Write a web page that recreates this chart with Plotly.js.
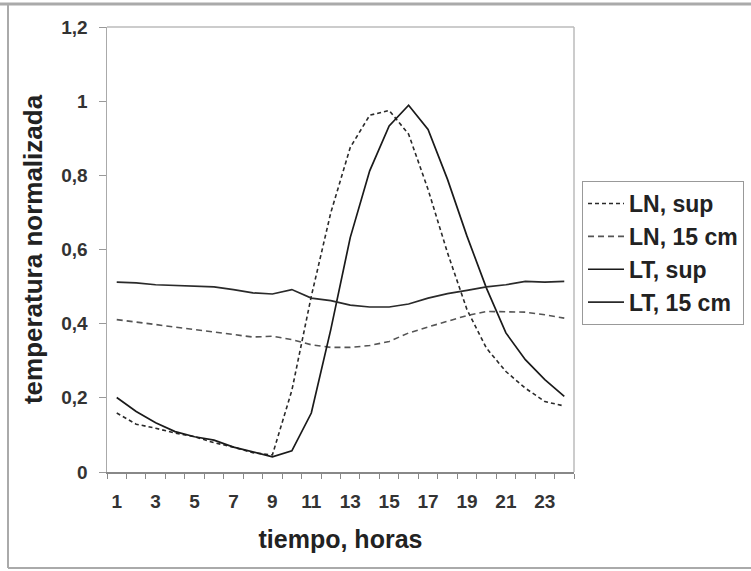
<!DOCTYPE html>
<html>
<head>
<meta charset="utf-8">
<script src="https://cdn.plot.ly/plotly-3.0.1.min.js"></script>
<style>html,body{margin:0;padding:0;background:#fff;}#chart{width:751px;height:571px;}</style>
</head>
<body>
<div id="chart"></div>
<script>
const hours = [1,2,3,4,5,6,7,8,9,10,11,12,13,14,15,16,17,18,19,20,21,22,23,24];
const lnSup  = [0.159,0.129,0.118,0.105,0.095,0.079,0.067,0.052,0.046,0.22,0.474,0.699,0.875,0.962,0.975,0.911,0.762,0.591,0.438,0.334,0.271,0.226,0.19,0.178];
const ln15   = [0.411,0.404,0.399,0.39,0.384,0.377,0.37,0.364,0.366,0.357,0.343,0.336,0.336,0.341,0.352,0.375,0.391,0.406,0.422,0.433,0.433,0.431,0.424,0.415];
const ltSup  = [0.201,0.163,0.133,0.109,0.095,0.086,0.067,0.055,0.041,0.057,0.159,0.384,0.632,0.812,0.933,0.989,0.924,0.789,0.636,0.496,0.375,0.303,0.249,0.204];
const lt15   = [0.512,0.51,0.505,0.503,0.502,0.499,0.492,0.483,0.48,0.492,0.469,0.462,0.45,0.445,0.445,0.453,0.469,0.481,0.49,0.499,0.505,0.514,0.512,0.514];
const seriesNames = ["LN, sup","LN, 15 cm","LT, sup","LT, 15 cm"];
const xTickVals = [1,3,5,7,9,11,13,15,17,19,21,23];
const yTickVals = [0,0.2,0.4,0.6,0.8,1,1.2];

const fontFam = "Liberation Sans, Arial, sans-serif";
const traces = [
  {x:hours, y:lnSup, name:seriesNames[0], mode:'lines', line:{color:'#2a2a2a', width:1.6, dash:'4px,3px'}},
  {x:hours, y:ln15,  name:seriesNames[1], mode:'lines', line:{color:'#555', width:1.6, dash:'6px,4px'}},
  {x:hours, y:ltSup, name:seriesNames[2], mode:'lines', line:{color:'#1a1a1a', width:1.7}},
  {x:hours, y:lt15,  name:seriesNames[3], mode:'lines', line:{color:'#2a2a2a', width:1.7}}
];

const L=107, R=574, T=27, B=472;
const px = v => (v - L)/(R - L);
const py = v => (B - v)/(B - T);

const layout = {
  width:751, height:571,
  margin:{l:L, r:751-R, t:T, b:571-B, pad:0, autoexpand:false},
  paper_bgcolor:'#fff', plot_bgcolor:'#fff',
  separators:',.',
  font:{family:fontFam, color:'#222'},
  showlegend:true,
  legend:{x:px(582), y:py(181), xanchor:'left', yanchor:'top',
    bordercolor:'#999', borderwidth:1, bgcolor:'#fff',
    font:{family:fontFam, size:23, weight:'bold', color:'#222'},
    tracegroupgap:0, itemwidth:36},
  xaxis:{range:[0.5,24.5], tickvals:xTickVals, ticks:'', showgrid:false, zeroline:false,
    showline:true, linecolor:'#888', linewidth:1.5,
    ticklabelstandoff:12,
    tickfont:{family:fontFam, size:19, weight:'bold', color:'#333'},
    minor:{ticks:'outside', tick0:0.5, dtick:1, ticklen:5, tickcolor:'#888', tickwidth:1, showgrid:false},
    title:{text:'tiempo, horas', font:{family:fontFam, size:25, weight:'bold', color:'#222'}, standoff:19}},
  yaxis:{range:[0,1.2], tickvals:yTickVals, ticks:'outside', ticklen:7, tickcolor:'#999', showgrid:false, zeroline:false,
    showline:true, linecolor:'#aaa', linewidth:1.5,
    ticklabelstandoff:7,
    tickfont:{family:fontFam, size:19, weight:'bold', color:'#333'},
    title:{text:'temperatura normalizada', font:{family:fontFam, size:26, weight:'bold', color:'#222'}, standoff:11}},
  shapes:[
    {type:'line', xref:'paper', yref:'paper', x0:0, x1:1, y0:1, y1:1, line:{color:'#bbb', width:1.5}},
    {type:'line', xref:'paper', yref:'paper', x0:1, x1:1, y0:0, y1:1, line:{color:'#bbb', width:1.5}},
    {type:'line', xref:'paper', yref:'paper', x0:px(0), x1:px(751), y0:py(4), y1:py(4), line:{color:'#aaa', width:3}},
    {type:'line', xref:'paper', yref:'paper', x0:px(8), x1:px(8), y0:py(4), y1:py(568), line:{color:'#aaa', width:2}},
    {type:'line', xref:'paper', yref:'paper', x0:px(8), x1:px(751), y0:py(568), y1:py(568), line:{color:'#aaa', width:2}}
  ]
};
Plotly.newPlot('chart', traces, layout, {displayModeBar:false, staticPlot:true});
</script>
</body>
</html>
